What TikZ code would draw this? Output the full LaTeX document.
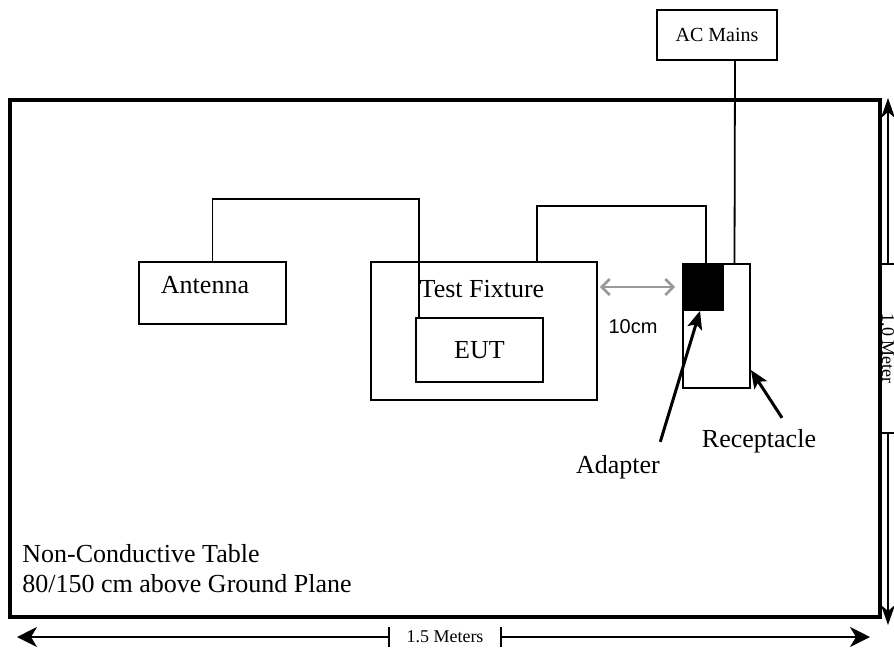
\documentclass[tikz,border=0pt]{standalone}
\usepackage{fontspec}
\setmainfont{Liberation Serif}
\newfontfamily\labelsans{Liberation Sans}
\usetikzlibrary{arrows.meta}

\definecolor{gapgray}{gray}{0.6}

\tikzset{
  box/.style={draw, line width=0.9pt, inner sep=0pt, font=\fontsize{13}{15}\selectfont},
  txt/.style={inner sep=0pt, font=\fontsize{13}{15}\selectfont},
  cable/.style={line width=0.9pt},
  pointer/.style={line width=1.5pt, -{Stealth[length=9pt,width=7.5pt,inset=2pt]}},
  gap/.style={gapgray, line width=1.3pt, {Straight Barb[length=4pt,width=8pt]}-{Straight Barb[length=4pt,width=8pt]}},
  dim/.style={line width=0.7pt, {Bar[width=10pt]}-{Stealth[length=10pt,width=10pt,inset=3pt]}},
  dimv/.style={line width=0.7pt, {Bar[width=10pt]}-{Stealth[length=10pt,width=7pt,inset=3pt]}},
  dimtext/.style={inner sep=0pt, font=\fontsize{9}{11}\selectfont},
}

\begin{document}
\begin{tikzpicture}[x=0.5pt, y=-0.5pt]
  \useasboundingbox (0,0) rectangle (894,654);

  % Table
  \node[draw, line width=2pt, minimum width=435pt, minimum height=258.5pt] (table) at (445,358.5) {};
  \node[txt, align=left, anchor=north west] (tablelbl) at (22,544) {Non-Conductive Table\\80/150 cm above Ground Plane};

  % Boxes
  \node[box, minimum width=60pt, minimum height=25pt, font=\fontsize{10}{12}\selectfont] (acmains) at (717,35) {AC Mains};
  \node[box, minimum width=73.5pt, minimum height=31pt] (antenna) at (212.5,293) {};
  \node[txt] (antennalbl) at (205,285) {Antenna};
  \node[box, minimum width=113pt, minimum height=69pt] (fixture) at (484,331) {};
  \node[txt] (fixturelbl) at (482,289) {Test Fixture};
  \node[box, minimum width=63.5pt, minimum height=32pt] (eut) at (479.5,350) {EUT};
  \node[box, minimum width=33.5pt, minimum height=62pt] (receptacle) at (716.5,326) {};
  \node[box, fill=black, minimum width=20pt, minimum height=23pt] (adapter) at (703,287) {};

  % Cables
  \draw[cable] (antenna.north) -- ++(0,-62) -| ([xshift=2pt]eut.north west);
  \draw[cable] ([xshift=1.5pt]adapter.north) -- ++(0,-57) -| ([xshift=26.5pt]fixture.north);
  \draw[cable] ([xshift=9pt]acmains.south) -- ([xshift=9pt]receptacle.north);

  % 10cm gap
  \coordinate (gapl) at (fixture.east |- adapter.west);
  \draw[gap] ([xshift=1pt]gapl) -- ([xshift=-3.5pt]adapter.west);
  \node[font=\labelsans\fontsize{10}{12}\selectfont, inner sep=0pt] (gaplbl) at (633,327) {10cm};

  % Pointers
  \node[txt] (adapterlbl) at (618,467) {Adapter};
  \node[txt] (recptlbl) at (759,441) {Receptacle};
  \draw[pointer] ([yshift=6.5pt]adapterlbl.north east) -- ([xshift=-1.5pt]adapter.south);
  \draw[pointer] ([xshift=11.5pt,yshift=5.5pt]recptlbl.north) -- ([yshift=-22pt]receptacle.east);

  % Dimensions
  \node[dimtext, minimum width=55pt] (widthlbl) at (445,637) {1.5 Meters};
  \coordinate (wleft) at (17,637);
  \coordinate (wright) at (870,637);
  \draw[dim] (widthlbl.west) -- (wleft);
  \draw[dim] (widthlbl.east) -- (wright);
  \node[dimtext, rotate=-90, minimum width=83.5pt] (heightlbl) at (888,348.5) {1.0 Meter};
  \coordinate (htop) at (888,98);
  \coordinate (hbot) at (888,625);
  \draw[dimv] (heightlbl.west) -- (htop);
  \draw[dimv] (heightlbl.east) -- (hbot);
\end{tikzpicture}
\end{document}
